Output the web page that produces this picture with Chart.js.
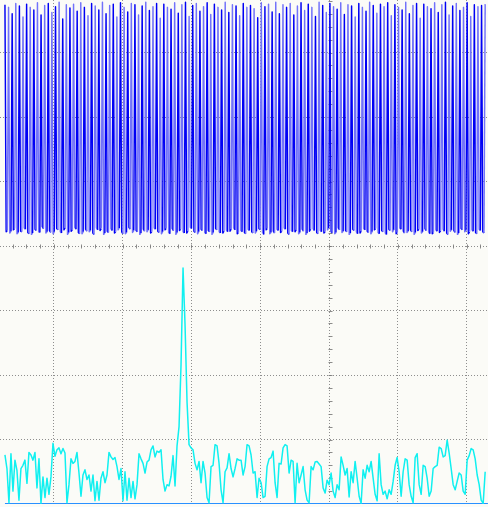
<!DOCTYPE html>
<html><head><meta charset="utf-8">
<script src="https://cdn.jsdelivr.net/npm/chart.js@4"></script>
<style>
html,body{margin:0;padding:0;background:#fbfbf7;overflow:hidden;width:488px;height:507px;}
#wrap{position:absolute;left:-15px;top:-12px;width:688px;height:516px;}
</style></head><body>
<div id="wrap"><canvas id="c" width="688" height="516"></canvas></div>
<script>
// Screen: 10 x 8 divisions (values below are in divisions)
const screenDivsX = 10;
const screenDivsY = 8;
const centerDivX = 5;
const centerDivY = 4;
const traceStartDiv = 0.29;
const traceEndDiv = 7.27;

// Time-domain signal: acquired samples (divisions), 3 samples per cycle
const waveform = [
  7.74,4.22,4.24, 7.70,4.20,4.23, 7.60,4.25,4.27, 7.76,4.19,4.21,
  7.72,4.23,4.22, 7.55,4.28,4.26, 7.75,4.21,4.19, 7.70,4.18,4.20,
  7.66,4.26,4.24, 7.77,4.22,4.21, 7.58,4.30,4.27, 7.73,4.20,4.22,
  7.76,4.24,4.21, 7.62,4.19,4.22, 7.71,4.27,4.25, 7.78,4.22,4.20,
  7.52,4.25,4.28, 7.74,4.18,4.21, 7.69,4.23,4.25, 7.75,4.29,4.26,
  7.64,4.21,4.19, 7.77,4.19,4.22, 7.70,4.26,4.23, 7.57,4.22,4.24,
  7.76,4.20,4.18, 7.72,4.28,4.25, 7.66,4.24,4.27, 7.78,4.18,4.20,
  7.60,4.23,4.21, 7.73,4.27,4.24, 7.75,4.20,4.22, 7.55,4.25,4.28,
  7.77,4.22,4.19, 7.70,4.19,4.21, 7.63,4.29,4.26, 7.76,4.21,4.24,
  7.74,4.24,4.22, 7.58,4.18,4.20, 7.72,4.26,4.23, 7.78,4.22,4.25,
  7.65,4.20,4.22, 7.71,4.28,4.26, 7.76,4.23,4.21, 7.53,4.19,4.22,
  7.75,4.25,4.27, 7.70,4.21,4.19, 7.67,4.27,4.24, 7.77,4.18,4.21,
  7.61,4.24,4.26, 7.74,4.22,4.20, 7.78,4.20,4.23, 7.56,4.29,4.27,
  7.73,4.23,4.21, 7.76,4.19,4.22, 7.64,4.26,4.24, 7.71,4.21,4.19,
  7.77,4.24,4.22, 7.59,4.18,4.21, 7.75,4.27,4.25, 7.70,4.22,4.20,
  7.66,4.20,4.23, 7.78,4.25,4.22, 7.62,4.23,4.26, 7.74,4.28,4.25,
  7.72,4.19,4.21, 7.57,4.24,4.22, 7.76,4.21,4.19, 7.70,4.26,4.24,
  7.73,4.22,4.20, 7.68,4.20,4.23, 7.54,4.27,4.25, 7.77,4.21,4.18,
  7.71,4.25,4.27, 7.75,4.19,4.21, 7.63,4.23,4.20, 7.78,4.26,4.24,
  7.60,4.21,4.23, 7.74,4.28,4.26, 7.70,4.20,4.18, 7.76,4.24,4.22,
  7.58,4.22,4.25, 7.72,4.19,4.21, 7.77,4.26,4.23, 7.65,4.18,4.20,
  7.75,4.23,4.26, 7.70,4.27,4.24, 7.56,4.21,4.19, 7.78,4.24,4.22,
  7.73,4.20,4.22, 7.62,4.25,4.28, 7.76,4.22,4.20, 7.71,4.19,4.21,
  7.67,4.28,4.25, 7.77,4.21,4.23, 7.59,4.24,4.22, 7.74,4.18,4.20,
  7.72,4.26,4.24, 7.55,4.22,4.19, 7.76,4.20,4.23, 7.70,4.27,4.25,
  7.64,4.23,4.21, 7.78,4.19,4.22, 7.73,4.25,4.27, 7.61,4.21,4.19,
  7.75,4.24,4.22, 7.71,4.20,4.18, 7.77,4.26,4.24, 7.57,4.22,4.25,
  7.74,4.19,4.21, 7.70,4.28,4.26, 7.66,4.23,4.20, 7.78,4.21,4.23,
  7.60,4.25,4.22, 7.73,4.18,4.21, 7.76,4.24,4.26, 7.53,4.20,4.22,
  7.75,4.27,4.24, 7.71,4.22,4.19, 7.68,4.19,4.21, 7.77,4.25,4.23,
  7.62,4.21,4.24, 7.74,4.26,4.23, 7.78,4.20,4.18, 7.58,4.23,4.25,
  7.72,4.24,4.21, 7.76,4.18,4.20, 7.65,4.27,4.25, 7.70,4.22,4.24,
  7.77,4.19,4.22, 7.56,4.25,4.23, 7.74,4.21,4.19, 7.71,4.26,4.24,
  7.73,4.22,4.20, 7.75
];

// Spectrum (FFT) magnitude, divisions above the screen bottom
const fftLevels = [
  0.76,0.55,0.02,0.78,0.20,0.68,0.52,0.06,0.55,0.60,
  0.68,0.32,0.80,0.76,0.68,0.80,0.25,0.70,0.01,0.42,
  0.10,0.40,0.15,0.42,0.94,0.74,0.84,0.87,0.78,0.86,
  0.79,0.02,0.30,0.70,0.63,0.66,0.80,0.48,0.12,0.45,
  0.53,0.38,0.45,0.20,0.45,0.05,0.35,0.06,0.40,0.50,
  0.33,0.45,0.80,0.73,0.69,0.72,0.58,0.38,0.55,0.05,
  0.50,0.06,0.40,0.10,0.35,0.08,0.30,0.78,0.70,0.63,
  0.48,0.65,0.68,0.84,0.90,0.73,0.82,0.80,0.84,0.38,
  0.20,0.30,0.28,0.43,0.75,0.28,0.90,1.20,2.16,3.66,
  2.78,1.58,0.92,0.87,0.84,0.63,0.53,0.66,0.33,0.66,
  0.48,0.10,0.02,0.58,0.60,0.92,0.90,0.63,0.22,0.02,
  0.50,0.56,0.78,0.55,0.42,0.55,0.70,0.68,0.68,0.45,
  0.58,0.92,0.90,0.76,0.48,0.50,0.10,0.40,0.33,0.10,
  0.12,0.58,0.70,0.72,0.82,0.33,0.10,0.63,0.62,0.87,
  0.92,0.90,0.48,0.68,0.66,0.02,0.63,0.33,0.45,0.58,
  0.22,0.06,0.02,0.58,0.53,0.65,0.66,0.62,0.58,0.25,
  0.17,0.37,0.30,0.48,0.20,0.10,0.30,0.22,0.73,0.60,
  0.45,0.55,0.11,0.50,0.33,0.66,0.40,0.12,0.01,0.53,
  0.40,0.60,0.50,0.66,0.40,0.15,0.05,0.78,0.30,0.15,
  0.20,0.08,0.22,0.15,0.35,0.60,0.72,0.50,0.12,0.50,
  0.70,0.68,0.30,0.12,0.02,0.72,0.78,0.30,0.15,0.60,
  0.58,0.40,0.12,0.20,0.55,0.58,0.60,0.88,0.86,0.73,
  0.75,0.99,0.79,0.55,0.30,0.22,0.35,0.48,0.45,0.20,
  0.15,0.68,0.75,0.86,0.84,0.70,0.45,0.30,0.06,0.01,
  0.50
];

const fftFloor = [0, 0];
const fftFloorEndDiv = 7.31;
const samplesPerCycle = 3;

function spread(values, start, end) {
  const n = values.length;
  return values.map((v, i) => ({ x: start + (end - start) * i / (n - 1), y: v }));
}

const scopeTicks = {
  id: 'scopeTicks',
  beforeDatasetsDraw(chart) {
    const { ctx, scales: { x, y } } = chart;
    const cx = Math.round(x.getPixelForValue(centerDivX)) + 0.5;
    const cy = Math.round(y.getPixelForValue(centerDivY)) + 0.5;
    ctx.save();
    ctx.strokeStyle = 'rgba(120,120,120,0.85)';
    ctx.lineWidth = 1;
    ctx.beginPath();
    for (let k = 0; k <= screenDivsX * 5; k++) {
      const px = Math.round(x.getPixelForValue(k / 5)) + 0.5;
      ctx.moveTo(px, cy - 2); ctx.lineTo(px, cy + 2);
    }
    for (let k = 0; k <= screenDivsY * 5; k++) {
      const py = Math.round(y.getPixelForValue(k / 5)) + 0.5;
      ctx.moveTo(cx - 1, py); ctx.lineTo(cx + 3, py);
    }
    ctx.stroke();
    ctx.restore();
  }
};

const brightColor = '#0000f5';
const dimColor = '#7272fa';

new Chart(document.getElementById('c'), {
  type: 'line',
  data: {
    datasets: [
      {
        data: spread(waveform, traceStartDiv, traceEndDiv),
        borderColor: brightColor,
        segment: {
          borderColor: ctx => (Math.floor((ctx.p0DataIndex + 1) / samplesPerCycle) % 2 === 0 ? brightColor : dimColor)
        },
        borderWidth: 1.45,
        borderJoinStyle: 'round',
        pointRadius: 0,
        tension: 0,
        clip: false
      },
      {
        data: spread(fftLevels, traceStartDiv, traceEndDiv),
        borderColor: '#10f0f0',
        borderWidth: 1.5,
        borderJoinStyle: 'round',
        pointRadius: 0,
        tension: 0,
        clip: false
      },
      {
        data: spread(fftFloor, traceStartDiv, fftFloorEndDiv),
        borderColor: '#2a90ff',
        borderWidth: 2,
        pointRadius: 0,
        clip: false
      }
    ]
  },
  options: {
    responsive: false,
    animation: false,
    events: [],
    layout: { padding: 0 },
    plugins: { legend: { display: false }, tooltip: { enabled: false } },
    scales: {
      x: {
        type: 'linear', min: 0, max: screenDivsX,
        ticks: { display: false, stepSize: 1 },
        grid: { color: 'rgba(130,130,130,0.9)', lineWidth: 1, drawTicks: false },
        border: { display: false, dash: [1, 2] }
      },
      y: {
        type: 'linear', min: 0, max: screenDivsY,
        ticks: { display: false, stepSize: 1 },
        grid: { color: 'rgba(130,130,130,0.9)', lineWidth: 1, drawTicks: false },
        border: { display: false, dash: [1, 2] }
      }
    }
  },
  plugins: [scopeTicks]
});
</script>
</body></html>
